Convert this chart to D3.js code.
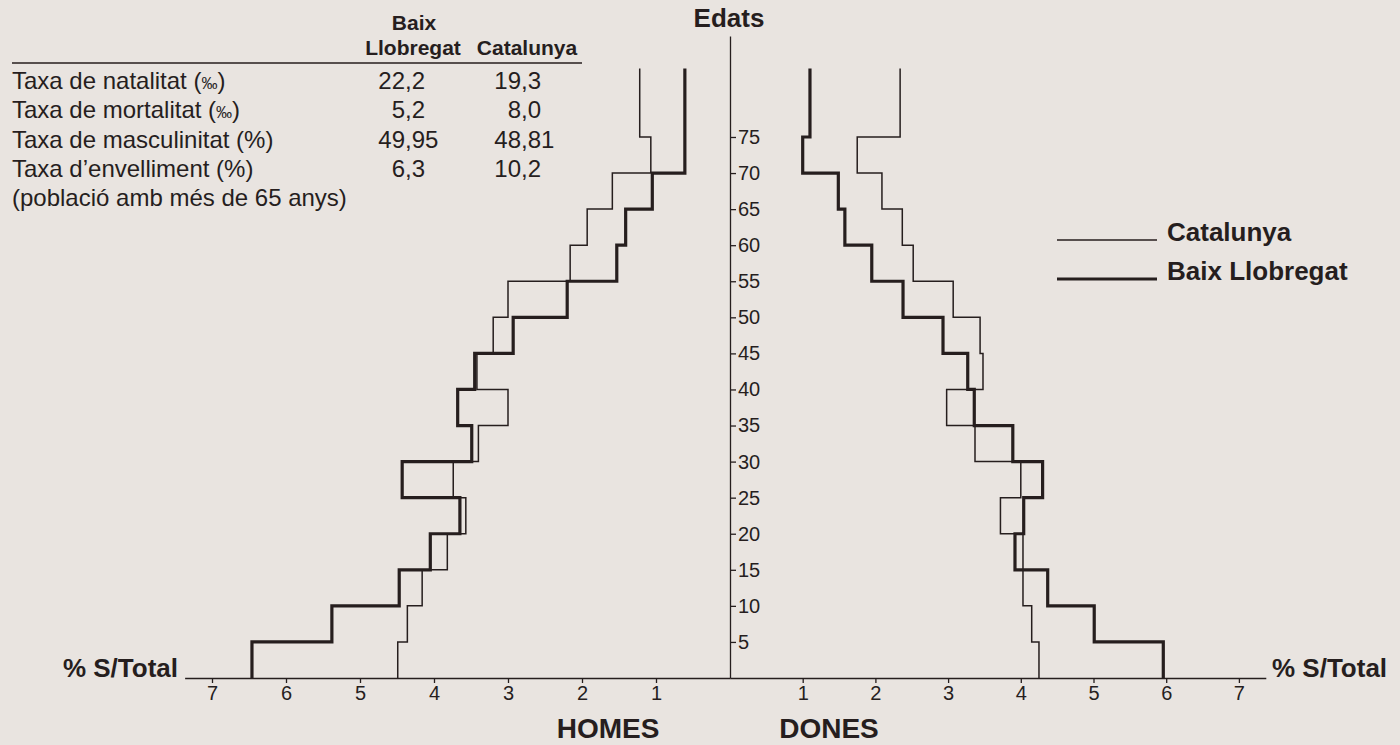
<!DOCTYPE html>
<html>
<head>
<meta charset="utf-8">
<script src="https://cdn.jsdelivr.net/npm/d3@7"></script>
<style>
  body { margin: 0; background: #e9e4e0; }
  svg { display: block; font-family: "Liberation Sans", Arial, Helvetica, sans-serif; }
</style>
</head>
<body>
<div id="chart"></div>
<script>
// Age bands (5 years each, the last one is "75 and over", drawn up to 84.5)
const ageStart = [0, 5, 10, 15, 20, 25, 30, 35, 40, 45, 50, 55, 60, 65, 70, 75];
const ageEnd   = [5, 10, 15, 20, 25, 30, 35, 40, 45, 50, 55, 60, 65, 70, 75, 84.5];
const ageTicks = [5, 10, 15, 20, 25, 30, 35, 40, 45, 50, 55, 60, 65, 70, 75];

// % over total population, per band
const homesBaix = [6.46, 5.38, 4.47, 4.05, 3.65, 4.43, 3.49, 3.68, 3.45, 2.93, 2.20, 1.53, 1.41, 1.05, 0.61, 0.61];
const homesCat  = [4.49, 4.36, 4.16, 3.82, 3.57, 3.74, 3.40, 3.00, 3.42, 3.20, 3.00, 2.16, 1.93, 1.59, 1.07, 1.22];
const donesBaix = [5.96, 5.01, 4.37, 3.92, 4.04, 4.30, 3.89, 3.36, 3.27, 2.93, 2.38, 1.95, 1.58, 1.49, 1.00, 1.10];
const donesCat  = [4.25, 4.15, 4.03, 4.03, 3.72, 4.00, 3.37, 2.98, 3.48, 3.44, 3.07, 2.52, 2.37, 2.09, 1.75, 2.34];
const pctTicks = [1, 2, 3, 4, 5, 6, 7];

// Table
const tableLabels = ['Taxa de natalitat', 'Taxa de mortalitat', 'Taxa de masculinitat (%)', "Taxa d\u2019envelliment (%)"];
const tableMille = [true, true, false, false];
const tableBaix = [22.2, 5.2, 49.95, 6.3];
const tableCat = [19.3, 8.0, 48.81, 10.2];
const tableDecimals = [1, 1, 2, 1];
const tableNote = '(població amb més de 65 anys)';

const width = 1400, height = 745;
const ink = '#261e1e';

const svg = d3.select('#chart').append('svg')
    .attr('width', width)
    .attr('height', height);

svg.append('rect').attr('width', width).attr('height', height).attr('fill', '#e9e4e0');

// Scales
const originX = 730;
const xMax = 7.37;
const xHomes = d3.scaleLinear().domain([0, xMax]).range([originX, originX - xMax * 74]);
const xDones = d3.scaleLinear().domain([0, xMax]).range([originX, originX + xMax * 72.7]);
const y = d3.scaleLinear().domain([0, 89]).range([678, 36]);

// Axes
function styleAxis(g) {
    g.selectAll('path, line').attr('stroke', ink).attr('stroke-width', 1.3);
    g.selectAll('text').attr('fill', ink).attr('font-size', '20px')
        .attr('font-family', '"Liberation Sans", Arial, sans-serif');
}

svg.append('g')
    .attr('transform', `translate(0, ${y(0)})`)
    .call(d3.axisBottom(xHomes).tickValues(pctTicks).tickSize(5).tickPadding(3).tickSizeOuter(0))
    .call(styleAxis);

svg.append('g')
    .attr('transform', `translate(0, ${y(0)})`)
    .call(d3.axisBottom(xDones).tickValues(pctTicks).tickSize(5).tickPadding(3).tickSizeOuter(0))
    .call(styleAxis);

svg.append('g')
    .attr('transform', `translate(${originX}, 0)`)
    .call(d3.axisRight(y).tickValues(ageTicks).tickSize(6).tickPadding(2).tickSizeOuter(0))
    .call(styleAxis);

// Step lines
function stepPoints(values) {
    const pts = [];
    values.forEach((v, i) => {
        pts.push([v, ageStart[i]]);
        pts.push([v, ageEnd[i]]);
    });
    return pts;
}

const series = [
    { values: homesCat, x: xHomes, w: 1.5 },
    { values: donesCat, x: xDones, w: 1.5 },
    { values: homesBaix, x: xHomes, w: 3.2 },
    { values: donesBaix, x: xDones, w: 3.2 }
];

series.forEach(s => {
    const line = d3.line().x(d => s.x(d[0])).y(d => y(d[1]));
    svg.append('path')
        .datum(stepPoints(s.values))
        .attr('d', line)
        .attr('fill', 'none')
        .attr('stroke', ink)
        .attr('stroke-width', s.w)
        .attr('stroke-linejoin', 'miter');
});

// Axis titles
svg.append('text').attr('x', originX - 1).attr('y', 27)
    .attr('text-anchor', 'middle').attr('font-size', '26px').attr('font-weight', 'bold')
    .attr('fill', ink).text('Edats');

svg.append('text').attr('x', 178).attr('y', 677)
    .attr('text-anchor', 'end').attr('font-size', '26px').attr('font-weight', 'bold')
    .attr('fill', ink).text('% S/Total');

svg.append('text').attr('x', 1272).attr('y', 677)
    .attr('text-anchor', 'start').attr('font-size', '26px').attr('font-weight', 'bold')
    .attr('fill', ink).text('% S/Total');

svg.append('text').attr('x', 608).attr('y', 738)
    .attr('text-anchor', 'middle').attr('font-size', '28px').attr('font-weight', 'bold')
    .attr('fill', ink).text('HOMES');

svg.append('text').attr('x', 829).attr('y', 738)
    .attr('text-anchor', 'middle').attr('font-size', '28px').attr('font-weight', 'bold')
    .attr('fill', ink).text('DONES');

// Legend
const legend = svg.append('g').attr('transform', 'translate(1057, 240)');
[{ name: 'Catalunya', w: 1.5 }, { name: 'Baix Llobregat', w: 3.2 }].forEach((d, i) => {
    legend.append('line')
        .attr('x1', 0).attr('x2', 100)
        .attr('y1', i * 39).attr('y2', i * 39)
        .attr('stroke', ink).attr('stroke-width', d.w);
    legend.append('text')
        .attr('x', 110).attr('y', i * 39 + 1)
        .attr('font-size', '26px').attr('font-weight', 'bold')
        .attr('fill', ink).text(d.name);
});

// Table top-left
const table = svg.append('g');
table.append('text').attr('x', 414).attr('y', 30).attr('text-anchor', 'middle')
    .attr('font-size', '21px').attr('font-weight', 'bold').attr('fill', ink).text('Baix');
table.append('text').attr('x', 413).attr('y', 55).attr('text-anchor', 'middle')
    .attr('font-size', '21px').attr('font-weight', 'bold').attr('fill', ink).text('Llobregat');
table.append('text').attr('x', 527).attr('y', 55).attr('text-anchor', 'middle')
    .attr('font-size', '21px').attr('font-weight', 'bold').attr('fill', ink).text('Catalunya');
table.append('line').attr('x1', 12).attr('x2', 582).attr('y1', 63).attr('y2', 63)
    .attr('stroke', ink).attr('stroke-width', 1.6);

const rowY = i => 89 + i * 29.3;
const fmt = (v, dec) => v.toFixed(dec).split('.');

tableLabels.forEach((label, i) => {
    const t = table.append('text').attr('x', 12).attr('y', rowY(i))
        .attr('font-size', '24px').attr('fill', ink);
    if (tableMille[i]) {
        t.append('tspan').text(label + ' (');
        t.append('tspan').attr('font-size', '16px').text('\u2030');
        t.append('tspan').text(')');
    } else {
        t.text(label);
    }
    [[tableBaix, 405], [tableCat, 521]].forEach(([vals, cx]) => {
        const parts = fmt(vals[i], tableDecimals[i]);
        table.append('text').attr('x', cx).attr('y', rowY(i)).attr('text-anchor', 'end')
            .attr('font-size', '24px').attr('fill', ink).text(parts[0]);
        table.append('text').attr('x', cx).attr('y', rowY(i)).attr('text-anchor', 'start')
            .attr('font-size', '24px').attr('fill', ink).text(',' + parts[1]);
    });
});

table.append('text').attr('x', 12).attr('y', rowY(4))
    .attr('font-size', '24px').attr('fill', ink).text(tableNote);
</script>
</body>
</html>
